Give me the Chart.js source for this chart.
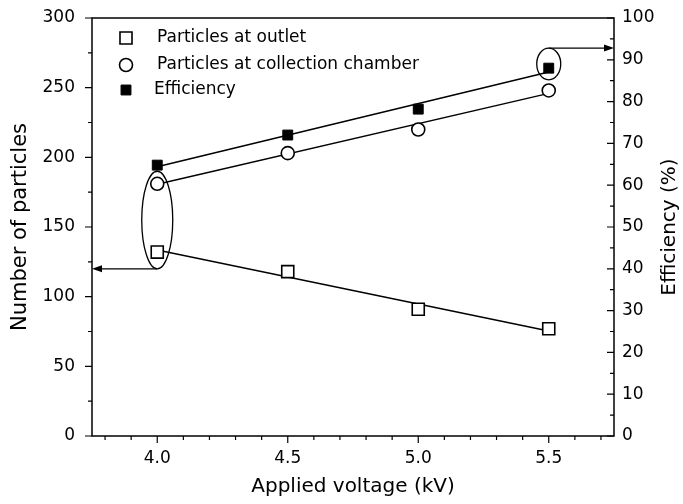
<!DOCTYPE html>
<html>
<head>
<meta charset="utf-8">
<script src="https://cdn.jsdelivr.net/npm/chart.js@4.4.1/dist/chart.umd.min.js"></script>
<style>
    html, body { margin: 0; padding: 0; background: #fff; }
    #wrap { width: 683px; height: 504px; }
</style>
</head>
<body>
<div id="wrap"><canvas id="voltageChart" width="683" height="504"></canvas></div>
<script>
var voltage = [4.0, 4.5, 5.0, 5.5];
var outletCount = [132, 118, 91, 77];
var chamberCount = [181, 203, 220, 248];
var efficiency = [64.8, 72.0, 78.2, 88.0];

// straight fit lines, end points
var fitVoltage = [4.0, 5.5];
var outletFit = [133.5, 75.3];
var chamberFit = [180.7, 245.9];
var efficiencyFit = [64.4, 87.1];

var voltageTicks = [4.0, 4.5, 5.0, 5.5];
var countTicks = [0, 50, 100, 150, 200, 250, 300];
var efficiencyTicks = [0, 10, 20, 30, 40, 50, 60, 70, 80, 90, 100];

var FONT = "'DejaVu Sans', sans-serif";

function pts(xs, ys) {
    return xs.map(function (x, i) { return {x: x, y: ys[i]}; });
}

function setTicks(list) {
    return function (scale) {
        scale.ticks = list.map(function (v) { return {value: v}; });
    };
}

// ellipses drawn round the marked points, with arrows to the axis they belong to
var rings = [
    {x: 4.0, y: 155, dy: 35, axis: 'y', rx: 15.5, side: 'left'},
    {x: 5.5, y: 89, dy: 3.8, axis: 'y1', rx: 12, side: 'right'}
];

function arrowHead(ctx, x, y, dir) {
    ctx.beginPath();
    ctx.moveTo(x, y);
    ctx.lineTo(x - dir * 10, y - 3.5);
    ctx.lineTo(x - dir * 10, y + 3.5);
    ctx.closePath();
    ctx.fill();
}

function drawMarker(ctx, ds, x, y) {
    ctx.beginPath();
    if (ds.pointStyle === 'circle') {
        ctx.arc(x, y, ds.pointRadius, 0, Math.PI * 2);
    } else {
        var h = ds.pointRadius * Math.SQRT1_2;
        ctx.rect(x - h, y - h, 2 * h, 2 * h);
    }
    ctx.fillStyle = ds.pointBackgroundColor;
    ctx.fill();
    ctx.lineWidth = ds.pointBorderWidth;
    ctx.strokeStyle = '#000';
    ctx.stroke();
}

var decor = {
    id: 'decor',
    afterDraw: function (chart) {
        var ctx = chart.ctx, a = chart.chartArea;
        var sx = chart.scales.x, sy = chart.scales.y, sr = chart.scales.y1;
        var i, p, len;
        ctx.save();
        ctx.strokeStyle = '#000';
        ctx.fillStyle = '#000';
        ctx.lineWidth = 1.5;
        ctx.strokeRect(a.left, a.top, a.right - a.left, a.bottom - a.top);

        // tick marks: bottom and left point out, right points in
        ctx.lineWidth = 1.2;
        ctx.beginPath();
        for (i = 38; i <= 57; i++) {
            p = sx.getPixelForValue(i / 10);
            len = i % 5 === 0 ? 7 : 4;
            ctx.moveTo(p, a.bottom);
            ctx.lineTo(p, a.bottom + len);
        }
        for (i = 0; i <= 12; i++) {
            p = sy.getPixelForValue(i * 25);
            len = i % 2 === 0 ? 7 : 4;
            ctx.moveTo(a.left, p);
            ctx.lineTo(a.left - len, p);
        }
        for (i = 0; i <= 20; i++) {
            p = sr.getPixelForValue(i * 5);
            len = i % 2 === 0 ? 7 : 4;
            ctx.moveTo(a.right, p);
            ctx.lineTo(a.right - len, p);
        }
        ctx.stroke();

        // rings and arrows
        ctx.lineWidth = 1.3;
        rings.forEach(function (r) {
            var sc = chart.scales[r.axis];
            var cx = sx.getPixelForValue(r.x);
            var cy = sc.getPixelForValue(r.y);
            var ry = Math.abs(sc.getPixelForValue(r.y + r.dy) - cy);
            ctx.beginPath();
            ctx.ellipse(cx, cy, r.rx, ry, 0, 0, Math.PI * 2);
            ctx.stroke();
            ctx.beginPath();
            if (r.side === 'left') {
                ctx.moveTo(cx, cy + ry);
                ctx.lineTo(a.left + 6, cy + ry);
                ctx.stroke();
                arrowHead(ctx, a.left, cy + ry, -1);
            } else {
                ctx.moveTo(cx, cy - ry);
                ctx.lineTo(a.right - 6, cy - ry);
                ctx.stroke();
                arrowHead(ctx, a.right, cy - ry, 1);
            }
        });

        // legend inside the plot
        var rowY = [38, 65, 90];
        var textX = [157, 157, 154];
        ctx.font = '17px ' + FONT;
        ctx.textAlign = 'left';
        ctx.textBaseline = 'middle';
        for (i = 0; i < 3; i++) {
            var ds = chart.data.datasets[i];
            drawMarker(ctx, ds, 126, rowY[i]);
            ctx.fillStyle = '#000';
            ctx.fillText(ds.label, textX[i], rowY[i]);
        }

        // right axis title, reading bottom to top
        ctx.font = '20px ' + FONT;
        ctx.textAlign = 'center';
        ctx.translate(670, (a.top + a.bottom) / 2);
        ctx.rotate(-Math.PI / 2);
        ctx.fillText('Efficiency (%)', 0, 0);
        ctx.restore();
    }
};

var pointBase = {showLine: false, borderColor: '#000', pointBorderColor: '#000', pointHoverRadius: 0};
var lineBase = {showLine: true, borderColor: '#000', borderWidth: 1.5, pointRadius: 0, pointHoverRadius: 0, fill: false};

var datasets = [
    Object.assign({label: 'Particles at outlet', data: pts(voltage, outletCount), yAxisID: 'y',
        pointStyle: 'rect', pointRadius: 8.5, pointBackgroundColor: '#fff', pointBorderWidth: 1.6}, pointBase),
    Object.assign({label: 'Particles at collection chamber', data: pts(voltage, chamberCount), yAxisID: 'y',
        pointStyle: 'circle', pointRadius: 6.5, pointBackgroundColor: '#fff', pointBorderWidth: 1.6}, pointBase),
    Object.assign({label: 'Efficiency', data: pts(voltage, efficiency), yAxisID: 'y1',
        pointStyle: 'rect', pointRadius: 7, pointBackgroundColor: '#000', pointBorderWidth: 1}, pointBase),
    Object.assign({label: 'outlet fit', data: pts(fitVoltage, outletFit), yAxisID: 'y'}, lineBase),
    Object.assign({label: 'chamber fit', data: pts(fitVoltage, chamberFit), yAxisID: 'y'}, lineBase),
    Object.assign({label: 'efficiency fit', data: pts(fitVoltage, efficiencyFit), yAxisID: 'y1'}, lineBase)
];

var tickFont = {family: FONT, size: 17};

var ctx = document.getElementById('voltageChart').getContext('2d');
new Chart(ctx, {
    type: 'scatter',
    data: {datasets: datasets},
    options: {
        responsive: false,
        animation: false,
        devicePixelRatio: 1,
        layout: {padding: {top: 18, left: 0, right: 0, bottom: 0}},
        plugins: {legend: {display: false}, tooltip: {enabled: false}},
        scales: {
            x: {
                type: 'linear', position: 'bottom', min: 3.75, max: 5.75,
                afterBuildTicks: setTicks(voltageTicks),
                afterFit: function (s) { s.height = 68; },
                grid: {display: false, drawTicks: false},
                border: {display: false},
                ticks: {padding: 12, color: '#000', font: tickFont, maxRotation: 0, autoSkip: false,
                    callback: function (v) { return Number(v).toFixed(1); }},
                title: {display: true, text: 'Applied voltage (kV)', color: '#000', font: {family: FONT, size: 20},
                    padding: {top: 0, bottom: 5}}
            },
            y: {
                type: 'linear', position: 'left', min: 0, max: 300,
                afterBuildTicks: setTicks(countTicks),
                afterFit: function (s) { s.width = 92; },
                // tick marks are drawn by the plugin; tickLength only spaces the labels
                grid: {display: false, drawTicks: true, tickLength: 11},
                border: {display: false},
                ticks: {padding: 6, color: '#000', font: tickFont, autoSkip: false},
                title: {display: true, text: 'Number of particles', color: '#000', font: {family: FONT, size: 21},
                    padding: {top: 8, bottom: 0}}
            },
            y1: {
                type: 'linear', position: 'right', min: 0, max: 100,
                afterBuildTicks: setTicks(efficiencyTicks),
                afterFit: function (s) { s.width = 69; },
                grid: {display: false, drawTicks: true, tickLength: 3},
                border: {display: false},
                ticks: {padding: 5, color: '#000', font: tickFont, autoSkip: false}
            }
        }
    },
    plugins: [decor]
});
</script>
</body>
</html>
